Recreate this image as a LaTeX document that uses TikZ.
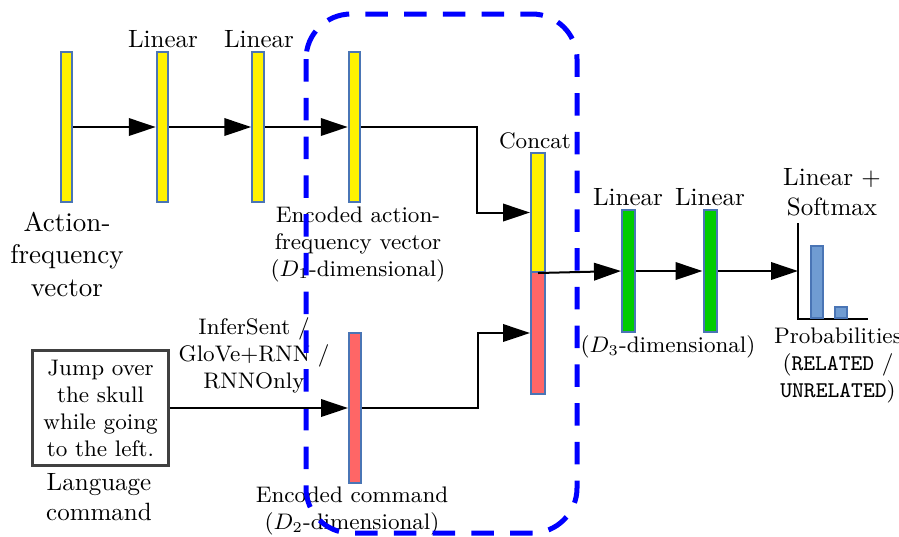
\documentclass[tikz,border=0pt]{standalone}
\usetikzlibrary{arrows.meta}

\definecolor{barblue}{RGB}{74,117,181}
\definecolor{barred}{RGB}{255,102,102}
\definecolor{bargreen}{RGB}{0,204,0}
\definecolor{chartfill}{RGB}{112,156,210}
\definecolor{boxgray}{RGB}{64,64,64}

\tikzset{
  vecbar/.style={draw=barblue, line width=0.8pt, inner sep=0pt, rectangle},
  ybar/.style={vecbar, fill=yellow, minimum width=4.6pt, minimum height=60pt},
  rbar/.style={vecbar, fill=barred, minimum width=4.8pt, minimum height=60pt},
  gbar/.style={vecbar, fill=bargreen, minimum width=5.2pt, minimum height=48.8pt},
  chartbar/.style={draw=barblue, line width=0.8pt, fill=chartfill, inner sep=0pt,
                   minimum width=4.8pt, anchor=south},
  conn/.style={line width=0.8pt, -{Triangle[length=10.8pt,width=7pt]}},
  axis/.style={line width=0.8pt},
  lab/.style={align=center, inner sep=0pt, font=\fontsize{10}{12}\selectfont},
  smalllab/.style={align=center, inner sep=0pt, font=\fontsize{9}{10.8}\selectfont},
  biglab/.style={align=center, inner sep=0pt, font=\fontsize{10.8}{13}\selectfont},
  region/.style={draw=blue, line width=2pt, dash pattern=on 9pt off 6.5pt, rounded corners=18pt},
}

\begin{document}
\begin{tikzpicture}[x=0.4pt, y=-0.4pt]
\useasboundingbox (0,0) rectangle (899,536);

% text labels
\node[lab] (t1) at (163,39) {Linear};
\node[lab] (t2) at (259,39) {Linear};
\node[biglab] (tin) at (67,254) {Action-\\frequency\\vector};
\node[smalllab] (tenc1) at (358,244) {Encoded action-\\frequency vector\\($D_1$-dimensional)};
\node[smalllab] (tcat) at (535,141) {Concat};
\node[lab] (t3) at (628,197) {Linear};
\node[lab] (t4) at (710,197) {Linear};
\node[lab] (t5) at (832,192) {Linear +\\Softmax};
\node[smalllab] (tdim3) at (668,347) {($D_3$-dimensional)};
\node[smalllab] (tprob) at (838,365) {Probabilities\\(\texttt{RELATED} /\\\texttt{UNRELATED})};
\node[smalllab] (tenc) at (254,355) {InferSent /\\GloVe+RNN /\\RNNOnly};
\node[lab] (tlang) at (99,497) {Language\\command};
\node[smalllab] (tenc2) at (352,511) {Encoded command\\($D_2$-dimensional)};

% the shared encoder region
\draw[region] (306,14) rectangle (577,533);

% action-frequency branch
\node[ybar] (v0) at (66.5,127) {};
\node[ybar] (l1) at (162.5,127) {};
\node[ybar] (l2) at (258,127) {};
\node[ybar] (enc1) at (354.5,127) {};

% language branch
\node[draw=boxgray, line width=1.2pt, minimum width=54pt, minimum height=46pt,
      inner sep=1pt, align=center, font=\fontsize{9}{10.8}\selectfont]
      (cmd) at (100.5,408) {Jump over\\the skull\\while going\\to the left.};
\node[rbar] (enc2) at (355,408) {};

% concatenated vector
\node[vecbar, fill=yellow, minimum width=5.6pt, minimum height=47.6pt] (catY) at (538,212.5) {};
\node[vecbar, fill=barred, minimum width=5.6pt, minimum height=48.8pt] (catR) at (538,333) {};

% classifier layers
\node[gbar] (g1) at (628.5,271) {};
\node[gbar] (g2) at (710,271) {};

% output distribution
\coordinate (axtop) at (798,223);
\coordinate (axorig) at (798,319);
\coordinate (axend) at (868,319);
\coordinate (axin) at (798,271);
\draw[axis] (axtop) -- (axorig) -- (axend);
\node[chartbar, minimum height=28.8pt] (p1) at (817,319) {};
\node[chartbar, minimum height=4.4pt] (p2) at (841,319) {};

% connectors
\draw[conn] (v0.east) -- (l1.west);
\draw[conn] (l1.east) -- (l2.west);
\draw[conn] (l2.east) -- (enc1.west);
\draw[conn] (cmd.east) -- (enc2.west);
\draw[conn] (enc1.east) -- ++(116,0) |- (catY.west);
\draw[conn] (enc2.east) -- ++(116,0) |- (catR.west);
\draw[conn] (catY.south) -- (g1.west);
\draw[conn] (g1.east) -- (g2.west);
\draw[conn] (g2.east) -- (axin);
\end{tikzpicture}
\end{document}
